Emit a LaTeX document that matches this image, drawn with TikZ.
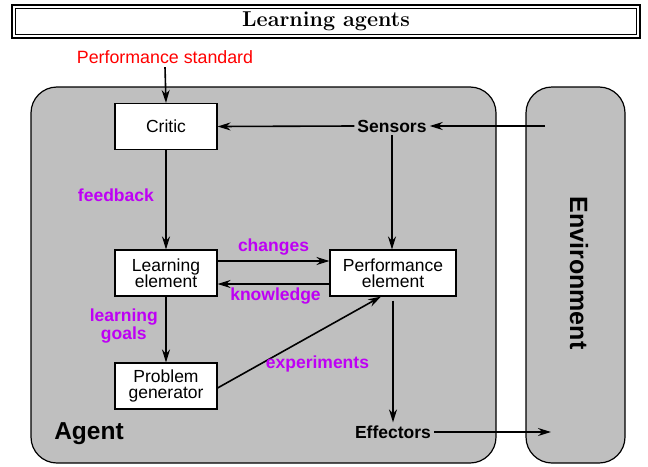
\documentclass[tikz,border=0pt]{standalone}
\usepackage{fontspec}
\setmainfont{Liberation Sans}
\newfontfamily\titlefont{Latin Modern Roman}
\usetikzlibrary{arrows.meta,calc}
\definecolor{agentgrey}{RGB}{191,191,191}
\definecolor{lblpurple}{RGB}{190,0,245}
\begin{document}
\begin{tikzpicture}[x=1pt,y=-1pt,
  every node/.style={font=\fontsize{17.8}{19}\selectfont},
  region/.style={draw=black,line width=1.2pt,fill=agentgrey,rounded corners=26pt},
  compbox/.style={draw=black,line width=1.1pt,fill=white,minimum width=102pt,minimum height=46pt,align=center,inner sep=1pt,font=\fontsize{17.5}{16.5}\selectfont},
  sbox/.style={font=\fontsize{17.5}{18}\selectfont\bfseries,inner sep=3pt},
  lbl/.style={text=lblpurple,font=\fontsize{17.5}{17.5}\selectfont\bfseries,align=center},
  flow/.style={-{Stealth[length=13pt,width=8pt]},line width=1.6pt}
]
\useasboundingbox (0,0) rectangle (648,466);
% title
\draw[line width=1.2pt] (12,5) rectangle (640,38);
\draw[line width=1.2pt] (15.5,8.5) rectangle (636.5,34.5);
\node[font=\titlefont\fontsize{21.5}{22}\selectfont\bfseries] (title) at (326,21) {Learning agents};
% regions
\draw[region] (31,87) rectangle (496,463);
\draw[region] (526,87) rectangle (625,463);
\node[font=\fontsize{24.5}{26}\selectfont\bfseries] (agent) at (89,434) {Agent};
\node[font=\fontsize{25}{26}\selectfont\bfseries,rotate=-90] (env) at (579,273) {Environment};
% components
\node[compbox] (critic) at (166,126.5) {Critic};
\node[compbox] (learn) at (166,273) {Learning\\element};
\node[compbox,minimum width=126pt] (perf) at (393,273) {Performance\\element};
\node[compbox] (prob) at (166,386) {Problem\\generator};
\node[sbox] (sensors) at (392,126) {Sensors};
\node[sbox] (effectors) at (393,432) {Effectors};
\node[text=red] (std) at (165,57) {Performance standard};
\coordinate (envin) at (545,126);
\coordinate (envout) at (551,432);
% connectors
\draw[flow] (std.south) -- (critic.north);
\draw[flow] (envin) -- (sensors.east);
\draw[flow] (sensors.west) -- (critic.east);
\draw[flow] (sensors.south) -- (sensors.south |- perf.north);
\draw[flow] (critic.south) -- node[lbl,left=8pt,pos=0.45] (fb) {feedback} (learn.north);
\draw[flow] ([yshift=12pt]learn.east) -- node[lbl,above=2pt] (chg) {changes} ([yshift=12pt]perf.west);
\draw[flow] ([yshift=-11pt]perf.west) -- node[lbl,below=0pt,xshift=2pt] (knw) {knowledge} ([yshift=-11pt]learn.east);
\draw[flow] (learn.south) -- node[lbl,left=4pt,pos=0.45] (lg) {learning\\goals} (prob.north);
\draw[flow] ([yshift=-2pt]prob.east) -- node[lbl,pos=0.55,below=14pt,xshift=10pt] (exp) {experiments} ([xshift=-12pt]perf.south);
\draw[flow,shorten <=4pt] (perf.south) -- (effectors.north);
\draw[flow] (effectors.east) -- (envout);
\end{tikzpicture}
\end{document}
